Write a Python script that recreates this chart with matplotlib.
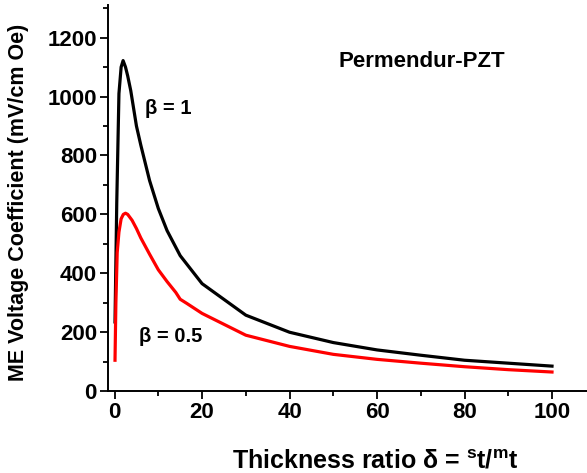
import matplotlib
matplotlib.use("Agg")
import matplotlib.pyplot as plt
from matplotlib.ticker import MultipleLocator

plt.rcParams['font.family'] = ['Liberation Sans', 'DejaVu Sans']
plt.rcParams['font.weight'] = 'bold'
plt.rcParams['mathtext.fontset'] = 'custom'
plt.rcParams['mathtext.rm'] = 'Liberation Sans:bold'
plt.rcParams['mathtext.bf'] = 'Liberation Sans:bold'

# beta = 1 (black)
x_b1 = [0.1, 0.5, 1.0, 1.5, 1.95, 2.5, 3, 3.7, 5, 6, 8, 10, 12, 15, 20, 30, 40, 50, 60, 70, 80, 90, 100]
y_b1 = [235, 640, 1010, 1100, 1122, 1100, 1070, 1020, 900, 835, 715, 620, 545, 460, 365, 258, 200, 165, 140, 122, 105, 95, 85]

# beta = 0.5 (red)
x_b05 = [0.1, 0.3, 0.6, 1.0, 1.5, 2.0, 2.5, 3, 4, 5, 6, 8, 10, 12, 14, 15, 16.5, 20, 30, 40, 50, 60, 70, 80, 90, 100]
y_b05 = [105, 300, 470, 540, 585, 600, 604, 600, 580, 552, 520, 465, 412, 372, 335, 312, 298, 264, 190, 152, 125, 108, 95, 83, 73, 65]

fig = plt.figure(figsize=(5.87, 4.73), dpi=100)
ax = fig.add_axes([0.184, 0.173, 0.816, 0.816])

ax.plot(x_b1, y_b1, color='black', lw=2.3)
ax.plot(x_b05, y_b05, color='red', lw=2.3)

ax.set_xlim(-1.5, 108)
ax.set_ylim(0, 1310)
ax.xaxis.set_major_locator(MultipleLocator(20))
ax.xaxis.set_minor_locator(MultipleLocator(10))
ax.yaxis.set_major_locator(MultipleLocator(200))
ax.yaxis.set_minor_locator(MultipleLocator(100))

for s in ['top', 'right']:
    ax.spines[s].set_visible(False)
for s in ['left', 'bottom']:
    ax.spines[s].set_linewidth(1.4)
ax.tick_params(which='major', direction='out', length=6, width=1.3, labelsize=16, pad=2)
ax.tick_params(which='minor', direction='out', length=3.5, width=1.3)

ax.set_ylabel('ME Voltage Coefficient (mV/cm Oe)', fontsize=15.5, fontweight='bold')
ax.yaxis.set_label_coords(-0.165, 0.49)
ax.set_xlabel(r'Thickness ratio δ = $^{\rm s}$t/$^{\rm m}$t', fontsize=18, fontweight='bold')
ax.xaxis.set_label_coords(0.557, -0.15)

ax.text(70.3, 1120, 'Permendur-PZT', fontsize=16, fontweight='bold', ha='center', va='center')
ax.text(7.0, 959, 'β = 1', fontsize=14.5, fontweight='bold', ha='left', va='center')
ax.text(5.6, 186, 'β = 0.5', fontsize=14.5, fontweight='bold', ha='left', va='center')

fig.savefig('out.png', dpi=100)
